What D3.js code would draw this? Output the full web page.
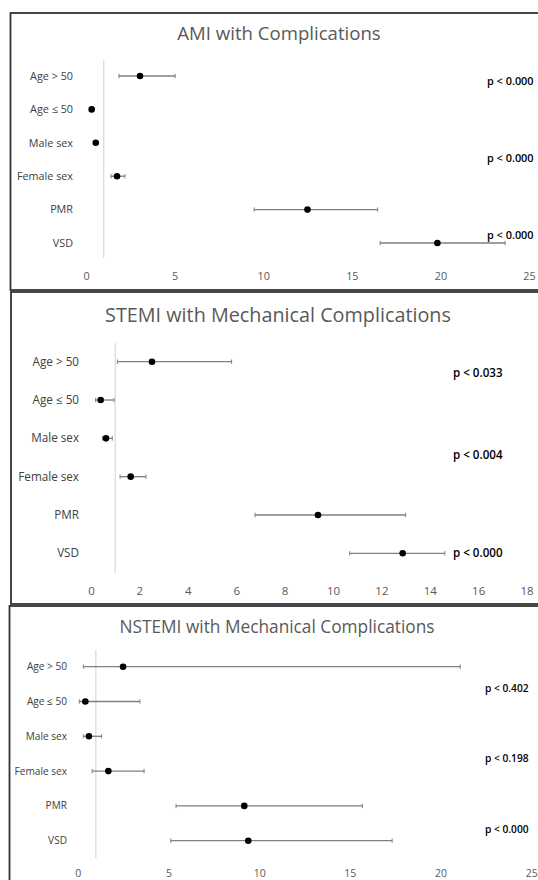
<!DOCTYPE html>
<html><head><meta charset="utf-8">
<script src="https://cdn.jsdelivr.net/npm/d3@7"></script>
<style>
body{margin:0;background:#fff;}
svg{display:block;font-family:"Open Sans",sans-serif;}
</style></head>
<body><svg id="c" width="538" height="880"></svg>
<script>
const categories = ["Age > 50","Age \u2264 50","Male sex","Female sex","PMR","VSD"];

const amiTitle = "AMI with Complications";
const amiOR   = [3.05, 0.32, 0.55, 1.75, 12.5, 19.83];
const amiLow  = [1.86, 0.27, 0.51, 1.41, 9.49, 16.6];
const amiHigh = [5.03, 0.37, 0.59, 2.2, 16.46, 23.65];
const amiTicks = [0,5,10,15,20,25];
const amiP = ["p < 0.000","p < 0.000","p < 0.000"];

const stemiTitle = "STEMI with Mechanical Complications";
const stemiOR   = [2.52, 0.4, 0.62, 1.64, 9.38, 12.88];
const stemiLow  = [1.09, 0.19, 0.48, 1.2, 6.78, 10.69];
const stemiHigh = [5.81, 0.95, 0.88, 2.27, 13.0, 14.62];
const stemiTicks = [0,2,4,6,8,10,12,14,16,18];
const stemiP = ["p < 0.033","p < 0.004","p < 0.000"];

const nstemiTitle = "NSTEMI with Mechanical Complications";
const nstemiOR   = [2.5, 0.42, 0.62, 1.69, 9.18, 9.4];
const nstemiLow  = [0.31, 0.09, 0.31, 0.8, 5.42, 5.13];
const nstemiHigh = [21.08, 3.43, 1.32, 3.66, 15.69, 17.33];
const nstemiTicks = [0,5,10,15,20,25];
const nstemiP = ["p < 0.402","p < 0.198","p < 0.000"];

const svg = d3.select("#c");

const panels = [
  {title:amiTitle, or:amiOR, lo:amiLow, hi:amiHigh, ticks:amiTicks, p:amiP,
   box:[10.5,13,540,277], xr:[86,529], yr:[76,243], ref:[60,258], tickY:276,
   titleY:40, titleX:279, labX:73, pX:487, pRows:[0.15,2.46,4.76],
   titleSize:18.6, labSize:10.8, pSize:10.9, tickSize:10.8},
  {title:stemiTitle, or:stemiOR, lo:stemiLow, hi:stemiHigh, ticks:stemiTicks, p:stemiP,
   box:[11,292,540,312], xr:[91,526.6], yr:[361.7,553.3], ref:[343,573], tickY:591,
   titleY:322, titleX:278, labX:79, pX:453, pRows:[0.3,2.44,5.0],
   titleSize:19.8, labSize:11.7, pSize:11.6, tickSize:11.5},
  {title:nstemiTitle, or:nstemiOR, lo:nstemiLow, hi:nstemiHigh, ticks:nstemiTicks, p:nstemiP,
   box:[9.5,606,540,290], xr:[77.7,531.3], yr:[666.7,840.7], ref:[650,858], tickY:873,
   titleY:633, titleX:277, labX:67, pX:485, pRows:[0.62,2.65,4.69],
   titleSize:17.3, labSize:10.1, pSize:10.2, tickSize:10.5}
];

panels.forEach(P => {
  const g = svg.append("g");
  g.append("rect").attr("x",P.box[0]).attr("y",P.box[1]).attr("width",P.box[2]).attr("height",P.box[3])
    .attr("fill","#fff").attr("stroke","#333").attr("stroke-width",1.8);

  const x = d3.scaleLinear().domain([P.ticks[0], P.ticks[P.ticks.length-1]]).range(P.xr);
  const y = d3.scalePoint().domain(categories).range(P.yr);
  const step = (P.yr[1]-P.yr[0])/(categories.length-1);

  g.append("text").attr("x",P.titleX).attr("y",P.titleY).attr("text-anchor","middle")
    .attr("font-size",P.titleSize).attr("fill","#595959").text(P.title);

  // reference line at OR = 1
  g.append("line").attr("x1",x(1)).attr("x2",x(1)).attr("y1",P.ref[0]).attr("y2",P.ref[1])
    .attr("stroke","#d9d9d9").attr("stroke-width",1.2);

  // x axis labels
  const ax = g.append("g").attr("transform",`translate(0,${P.tickY})`)
    .call(d3.axisBottom(x).tickValues(P.ticks).tickSize(0).tickPadding(0).tickFormat(d3.format("d")));
  ax.select(".domain").remove();
  ax.selectAll("text").attr("y",0).attr("dy","0.35em").attr("font-size",P.tickSize)
    .attr("fill","#595959").attr("font-family","'Open Sans',sans-serif");

  // y labels
  g.selectAll(".lab").data(categories).join("text")
    .attr("x",P.labX).attr("y",d=>y(d)).attr("dy","0.35em").attr("text-anchor","end")
    .attr("font-size",P.labSize).attr("fill","#404040").text(d=>d);

  const rows = categories.map((c,i)=>({c, or:P.or[i], lo:P.lo[i], hi:P.hi[i]}));
  // error bars
  g.selectAll(".eb").data(rows).join("line")
    .attr("x1",d=>x(d.lo)).attr("x2",d=>x(d.hi)).attr("y1",d=>y(d.c)).attr("y2",d=>y(d.c))
    .attr("stroke","#7f7f7f").attr("stroke-width",1.3);
  ["lo","hi"].forEach(k=>{
    g.selectAll(".cap"+k).data(rows).join("line")
      .attr("x1",d=>x(d[k])).attr("x2",d=>x(d[k])).attr("y1",d=>y(d.c)-2.2).attr("y2",d=>y(d.c)+2.2)
      .attr("stroke","#7f7f7f").attr("stroke-width",1);
  });
  g.selectAll(".pt").data(rows).join("circle")
    .attr("cx",d=>x(d.or)).attr("cy",d=>y(d.c)).attr("r",3.3).attr("fill","#000");

  // p-values
  g.selectAll(".pv").data(P.p).join("text")
    .attr("x",P.pX).attr("y",(d,i)=>P.yr[0]+P.pRows[i]*step).attr("dy","0.35em")
    .attr("font-size",P.pSize).attr("font-weight",600).attr("fill","#000").text(d=>d);
});
</script></body></html>
